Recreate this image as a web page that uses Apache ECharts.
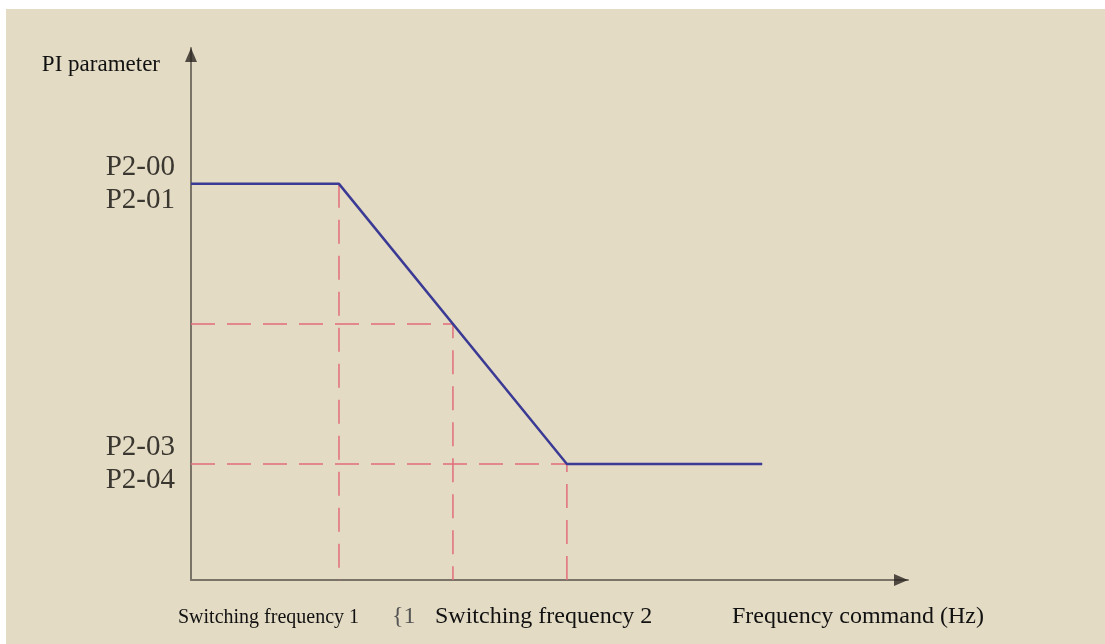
<!DOCTYPE html>
<html>
<head>
<meta charset="utf-8">
<script src="https://cdn.jsdelivr.net/npm/echarts@6/dist/echarts.min.js"></script>
<style>
  html, body { margin: 0; padding: 0; background: #ffffff; }
  #bg { position: absolute; left: 6px; top: 9px; width: 1099px; height: 635px; background: #e3dbc4; }
  #main { position: absolute; left: 0; top: 0; width: 1105px; height: 644px; }
</style>
</head>
<body>
<div id="bg"></div>
<div id="main"></div>
<script>
// 频率(任意单位) 和 PI参数(任意单位)
var freqSwitch1 = 10;
var freqMid = 17.7;
var freqSwitch2 = 25.4;
var freqEnd = 38.6;
var freqMax = 48.45;

var piHigh = 100;
var piMid = 64.6;
var piLow = 29.3;
var piMax = 134.3;

var yTickValues = [piLow, piHigh];
var yTickLabels = ['P2-03\nP2-04', 'P2-00\nP2-01'];

// PI曲线
var piCurve = [[0, piHigh], [freqSwitch1, piHigh], [freqSwitch2, piLow], [freqEnd, piLow]];

// 辅助虚线
var guide1 = [[freqSwitch1, piHigh], [freqSwitch1, 0]];
var guide2 = [[0, piMid], [freqMid, piMid], [freqMid, 0]];
var guide3 = [[0, piLow], [freqSwitch2, piLow], [freqSwitch2, 0]];

var myChart = echarts.init(document.getElementById('main'));

var serif = 'Liberation Serif';
var red = '#e26d7a';
var axisGray = '#7a7367';

function dashed(data) {
    return {
        type: 'line',
        data: data,
        symbol: 'none',
        silent: true,
        z: 1,
        lineStyle: { color: red, width: 1.5, type: [24, 12] }
    };
}

var option = {
    animation: false,
    backgroundColor: 'transparent',
    grid: { left: 191, top: 48, right: 197, bottom: 64 },
    xAxis: {
        type: 'value',
        min: 0,
        max: freqMax,
        axisLine: { lineStyle: { color: axisGray, width: 2 } },
        axisTick: { show: false },
        axisLabel: { show: false },
        splitLine: { show: false }
    },
    yAxis: {
        type: 'value',
        min: 0,
        max: piMax,
        name: 'PI parameter',
        nameLocation: 'end',
        nameGap: -17,
        nameTextStyle: {
            fontFamily: serif, fontSize: 23, color: '#111',
            align: 'right', verticalAlign: 'middle', padding: [0, 31, 0, 0]
        },
        axisLine: { show: true, lineStyle: { color: axisGray, width: 2 } },
        axisTick: { show: false },
        splitLine: { show: false },
        axisLabel: {
            customValues: yTickValues,
            margin: 16,
            fontFamily: serif,
            fontSize: 29,
            lineHeight: 33,
            color: '#3a3630',
            formatter: function (v) {
                var i = yTickValues.indexOf(v);
                return i >= 0 ? yTickLabels[i] : '';
            }
        }
    },
    graphic: [
        { type: 'text', left: 178, top: 608, style: { text: 'Switching frequency 1', font: '20px "Liberation Serif"', fill: '#111' } },
        { type: 'text', left: 392, top: 605, style: { text: '{1', font: '24px "Liberation Serif"', fill: '#555' } },
        { type: 'text', left: 435, top: 605, style: { text: 'Switching frequency 2', font: '24px "Liberation Serif"', fill: '#111' } },
        { type: 'text', left: 732, top: 605, style: { text: 'Frequency command (Hz)', font: '24px "Liberation Serif"', fill: '#111' } }
    ],
    series: [
        dashed(guide1),
        dashed(guide2),
        dashed(guide3),
        {
            type: 'line',
            data: piCurve,
            symbol: 'none',
            z: 3,
            lineStyle: { color: '#3b3a94', width: 2.5 }
        },
        {
            // 坐标轴箭头
            type: 'scatter',
            clip: false,
            silent: true,
            z: 5,
            symbol: 'triangle',
            symbolSize: [12, 14],
            itemStyle: { color: '#2a2420' },
            data: [
                { value: [freqMax, 0], symbolRotate: -90, symbolOffset: [-7, 0] },
                { value: [0, piMax], symbolRotate: 0, symbolOffset: [0, 7] }
            ]
        }
    ]
};

myChart.setOption(option);
</script>
</body>
</html>
